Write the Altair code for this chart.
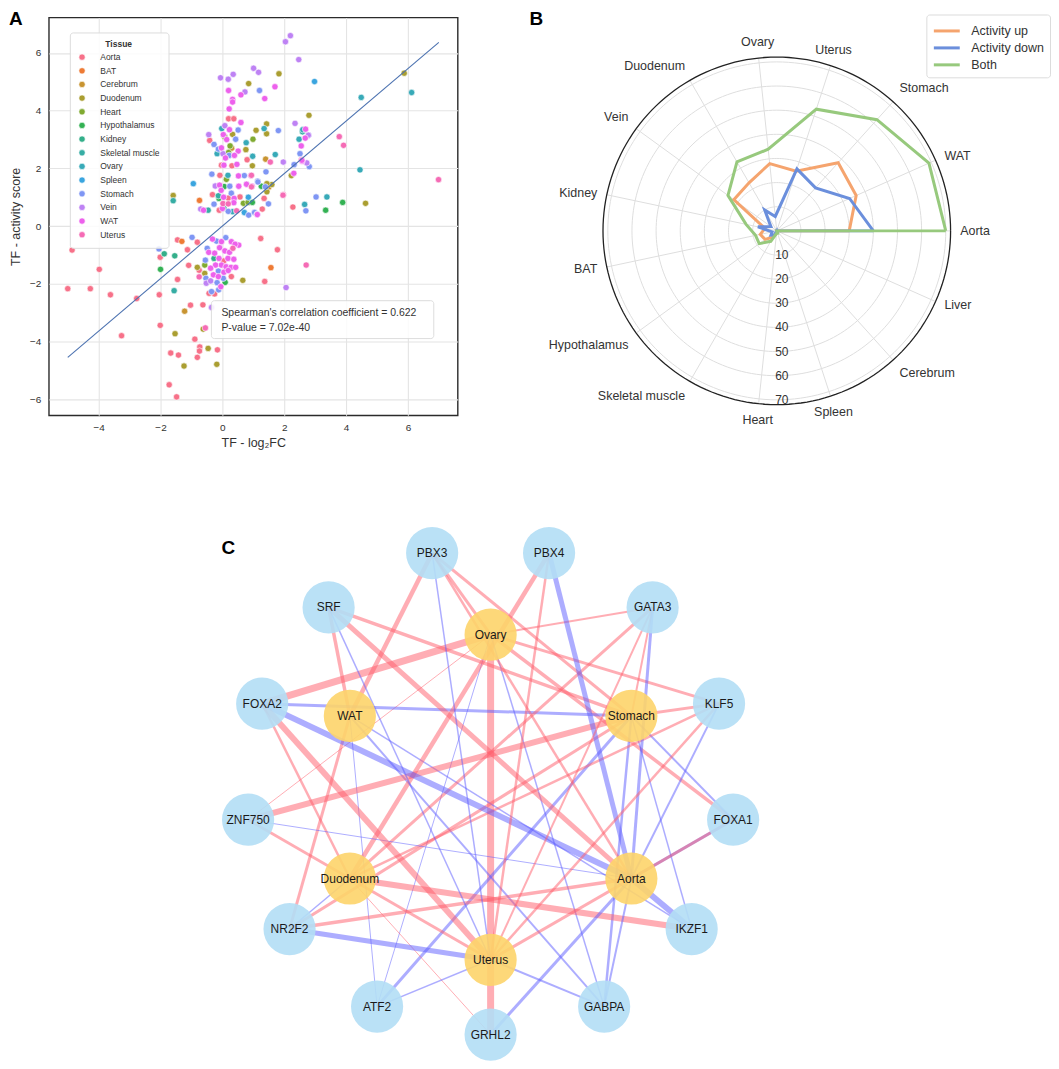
import math
import pandas as pd
import altair as alt

FONT = "Liberation Sans"
INK = "#333333"

# ======================= Panel A : scatter =======================
tissue_order = ["Aorta", "BAT", "Cerebrum", "Duodenum", "Heart", "Hypothalamus",
                "Kidney", "Skeletal muscle", "Ovary", "Spleen", "Stomach", "Vein",
                "WAT", "Uterus"]
tissue_colors = ["#f77189", "#ee7b35", "#c89431", "#aa9e31", "#80aa31", "#33b153",
                 "#34af8a", "#36ada4", "#38aab8", "#3aa5df", "#7f96f4", "#be82f4",
                 "#ed61ec", "#f56bb5"]

pts_aorta = [(0.20, 3.72), (0.37, 3.72), (-0.41, 2.97), (0.80, 2.30), (2.56, 2.30), (-0.03, 2.11),
             (0.31, 2.09), (-0.08, 1.76), (-0.32, 1.09), (0.19, 0.97), (0.57, 1.01), (1.35, 0.96),
             (-0.10, 0.55), (2.28, 0.66), (1.29, 0.59), (-4.86, -0.83), (-3.98, -1.50), (-5.0, -2.17),
             (-4.27, -2.17), (-3.62, -2.38), (-2.77, -2.51), (-3.26, -3.80), (-2.01, -1.08),
             (-1.45, -0.48), (-1.13, -0.82), (-0.81, -0.56), (-1.45, -1.85), (-2.04, -2.38),
             (-1.09, -1.36), (-0.75, -1.53), (-0.43, -2.33), (-0.25, -2.35), (-1.03, -2.74),
             (-0.63, -2.73), (-2.01, -3.44), (-0.89, -3.92), (-0.73, -4.19), (-0.74, -4.33),
             (-0.16, -4.29), (-1.67, -4.40), (-1.42, -4.47), (-0.81, -4.55), (-1.72, -5.50),
             (-1.48, -5.92), (1.24, -0.43), (1.78, -0.82), (1.37, -1.92), (0.04, -1.21), (0.29, -1.75)]
pts_bat = [(-0.74, 0.89), (-1.31, -0.53), (1.57, -1.44)]
pts_cerebrum = [(1.40, 2.32), (-1.22, -2.95), (0.30, 2.70), (1.50, 1.35)]
pts_duodenum = [(1.83, 5.28), (5.88, 5.30), (0.85, 4.94), (1.43, 3.54), (2.80, 3.84), (1.09, 3.32),
                (0.33, 3.18), (1.43, 3.20), (0.76, 2.65), (0.97, 2.09), (2.23, 1.75), (1.60, 1.44),
                (1.44, 1.19), (-1.59, 1.06), (4.63, 0.79), (-0.81, -1.43), (-0.57, -1.64),
                (0.66, -1.88), (-0.62, -3.57), (-1.53, -3.73), (-0.46, -4.24), (-1.24, -4.85),
                (-0.18, -4.79), (1.44, 1.47)]
pts_heart = [(0.08, 3.09), (0.99, 3.01), (0.25, 2.78), (0.13, 1.62), (0.68, 0.79), (0.83, 0.82),
             (-0.57, -1.35), (0.20, 2.55)]
pts_hypothalamus = [(1.26, 1.38), (0.06, 1.37), (-0.11, 0.96), (0.97, 0.82), (3.89, 0.82),
                    (3.34, 0.55), (0.09, -1.95), (-2.00, -1.50)]
pts_kidney = [(-1.88, -0.96), (-1.54, -1.03), (-0.27, -1.12), (0.05, 0.62)]
pts_skeletal = [(2.59, 3.27), (-0.13, 1.05), (-1.59, 0.88), (-0.46, 0.55), (-1.56, -2.24)]
pts_ovary = [(6.12, 4.63), (4.49, 4.46), (-0.02, 3.38), (1.35, 3.38), (0.77, 2.89), (2.48, 3.01),
             (-0.17, 2.51), (1.71, 2.48), (0.98, 2.42), (4.45, 1.95), (0.18, 1.76), (3.38, 1.01),
             (2.66, 0.75), (0.33, 0.50), (2.60, 3.34)]
pts_spleen = [(2.98, 5.01), (-0.94, 1.47), (0.84, 1.00), (0.71, 0.47)]
pts_stomach = [(1.20, 4.70), (0.51, 3.33), (1.81, 3.31), (2.78, 3.15), (-0.27, 2.83), (0.43, 3.01),
               (-0.13, 2.67), (0.22, 2.45), (2.51, 2.51), (2.32, 2.13), (2.81, 2.06), (-0.34, 1.80),
               (0.71, 1.75), (1.41, 1.88), (1.14, 1.56), (1.39, 1.36), (0.24, 1.38), (0.29, 1.14),
               (3.03, 1.01), (-0.27, 0.76), (1.49, 0.77), (2.70, 0.53), (0.19, 0.51), (0.85, 0.38),
               (1.04, 0.47), (1.15, 1.53), (-2.05, -0.79), (-0.98, -0.39), (-0.53, -1.81),
               (-0.35, -2.27), (-0.12, -2.21), (-0.19, -0.52), (0.11, -0.40), (-0.49, -0.77),
               (-0.55, -1.18), (-0.13, -1.56), (0.03, -1.81), (-0.17, -1.96)]
pts_vein = [(2.20, 6.60), (2.04, 6.39), (2.47, 5.77), (1.01, 5.47), (1.17, 5.33), (0.35, 5.26),
            (-0.06, 5.14), (0.19, 5.09), (0.73, 4.65), (0.08, 3.48), (2.35, 3.56), (-0.44, 3.17),
            (2.78, 3.15), (0.02, 2.51), (1.97, 2.22), (2.73, 2.19), (-0.23, 1.39), (-0.70, 0.59),
            (1.12, 0.41), (-0.52, -1.98), (-0.35, -2.82), (2.06, -2.13), (-0.38, -1.90)]
pts_wat = [(1.70, 4.83), (0.20, 4.70), (0.60, 4.55), (1.37, 4.42), (0.33, 4.39), (0.33, 4.30),
           (0.22, 4.06), (0.60, 3.59), (0.23, 3.34), (2.69, 3.36), (0.03, 3.17), (0.14, 3.00),
           (2.68, 3.05), (2.55, 2.78), (0.51, 2.60), (-0.03, 2.71), (0.39, 2.45), (0.10, 2.36),
           (2.58, 2.25), (0.05, 2.11), (0.47, 2.14), (0.52, 1.74), (0.92, 1.75), (2.31, 1.83),
           (-0.09, 1.42), (0.53, 1.38), (0.78, 1.45), (0.96, 1.38), (-0.04, 1.24), (0.04, 1.00),
           (0.38, 0.96), (0.37, 0.81), (-0.61, 0.55), (0.00, 0.61), (1.13, 0.40), (-0.32, -0.45),
           (-0.03, -0.54), (0.29, -0.54), (0.53, -0.66), (0.41, -0.63), (-0.44, -0.91),
           (-0.25, -0.94), (-0.09, -0.75), (0.08, -0.86), (0.23, -0.91), (-0.11, -1.12),
           (0.18, -1.12), (0.37, -1.15), (-0.22, -1.35), (-0.03, -1.35), (0.12, -1.41),
           (0.28, -1.43), (0.43, -1.43), (-0.38, -1.46), (0.05, -1.60), (0.19, -1.54),
           (-0.29, -1.69), (-0.13, -1.75), (-0.05, -2.10), (2.57, 2.28)]
pts_uterus = [(3.78, 3.10), (3.92, 2.80), (1.55, 2.22), (6.99, 1.61), (1.97, 1.09), (0.02, 0.78),
              (0.19, 0.77), (0.46, 0.53), (0.94, 1.76), (0.94, 1.36), (1.96, 1.07), (2.71, -1.35),
              (-0.75, -1.76), (-0.55, -3.53), (0.34, -0.77)]

groups = [("Aorta", pts_aorta), ("BAT", pts_bat), ("Cerebrum", pts_cerebrum),
          ("Duodenum", pts_duodenum), ("Heart", pts_heart), ("Hypothalamus", pts_hypothalamus),
          ("Kidney", pts_kidney), ("Skeletal muscle", pts_skeletal), ("Ovary", pts_ovary),
          ("Spleen", pts_spleen), ("Stomach", pts_stomach), ("Vein", pts_vein),
          ("WAT", pts_wat), ("Uterus", pts_uterus)]
scatter_df = pd.DataFrame([{"tissue": t, "x": x, "y": y} for t, pts in groups for x, y in pts])

fit_x = [-5.0, 7.0]
fit_slope = 0.91
fit_intercept = 0.0
fit_df = pd.DataFrame({"x": fit_x})

x_ticks = [-4, -2, 0, 2, 4, 6]
y_ticks = [-6, -4, -2, 0, 2, 4, 6]
x_domain = [-5.61, 7.61]
y_domain = [-6.56, 7.23]
annot_lines = ["Spearman's correlation coefficient = 0.622", "P-value = 7.02e-40"]

axis_common = dict(grid=True, gridColor="#e4e4e4", gridWidth=1.1, ticks=False, tickSize=0,
                   domain=False, labelFontSize=10, labelColor=INK, titleFontSize=12.5,
                   titleFontWeight="normal", titleColor=INK)
xA = alt.X("x:Q", scale=alt.Scale(domain=x_domain, nice=False, zero=False),
           axis=alt.Axis(values=x_ticks, title="TF - log₂FC", labelPadding=7, titlePadding=4,
                         **axis_common))
yA = alt.Y("y:Q", scale=alt.Scale(domain=y_domain, nice=False, zero=False),
           axis=alt.Axis(values=y_ticks, title="TF - activity score", labelPadding=8,
                         titlePadding=7, **axis_common))

pointsA = alt.Chart(scatter_df).mark_circle(size=40, opacity=1, stroke="white",
                                             strokeWidth=0.6).encode(
    x=xA, y=yA,
    color=alt.Color("tissue:N", sort=tissue_order,
                    scale=alt.Scale(domain=tissue_order, range=tissue_colors),
                    legend=alt.Legend(title="Tissue", orient="none", legendX=21, legendY=15,
                                      columns=1, fillColor="rgba(255,255,255,0.85)",
                                      strokeColor="#dcdcdc", cornerRadius=3, padding=8,
                                      titleFontSize=8.5, titleFontWeight="bold",
                                      titleColor=INK, titleAnchor="middle", titlePadding=4,
                                      labelFontSize=8.5, labelColor=INK, labelOffset=14,
                                      symbolSize=40, symbolType="circle",
                                      symbolStrokeColor="white", symbolStrokeWidth=0.6,
                                      rowPadding=3.7)))
fitA = alt.Chart(fit_df).transform_calculate(
    yfit=f"{fit_slope} * datum.x + {fit_intercept}"
).mark_line(color="#4c72b0", strokeWidth=1.1).encode(x=xA, y=alt.Y("yfit:Q"))

boxA = alt.Chart(pd.DataFrame({"k": [0]})).mark_rect(
    fill="white", opacity=0.88, stroke="#d9d9d9", strokeWidth=1, cornerRadius=3
).encode(x=alt.value(163), x2=alt.value(386), y=alt.value(284), y2=alt.value(322))
txtA1 = alt.Chart(pd.DataFrame({"t": [annot_lines[0]]})).mark_text(
    align="left", baseline="middle", fontSize=10.5, color=INK
).encode(text="t:N", x=alt.value(173), y=alt.value(296))
txtA2 = alt.Chart(pd.DataFrame({"t": [annot_lines[1]]})).mark_text(
    align="left", baseline="middle", fontSize=10.5, color=INK
).encode(text="t:N", x=alt.value(173), y=alt.value(311))
letterA = alt.Chart(pd.DataFrame({"t": ["A"]})).mark_text(
    align="left", baseline="top", fontSize=19, fontWeight="bold", color="black"
).encode(text="t:N", x=alt.value(-40), y=alt.value(-7))

panelA = alt.layer(pointsA, fitA, boxA, txtA1, txtA2, letterA).properties(
    width=410, height=399, view=alt.ViewBackground(stroke="#2b2b2b", strokeWidth=1.4))

# ======================= Panel B : radar =======================
radar_tissues = ["Aorta", "WAT", "Stomach", "Uterus", "Ovary", "Duodenum", "Vein", "Kidney",
                 "BAT", "Hypothalamus", "Skeletal muscle", "Heart", "Spleen", "Cerebrum", "Liver"]
act_up = [30, 36, 38, 26, 28, 23, 22, 5, 7, 6, 3, 1, 0, 0, 0]
act_down = [40, 33, 24, 27, 6, 10, 3, 8, 2, 3, 2, 0, 1, 0, 0]
act_both = [70, 69, 62, 53, 34, 33, 25, 13, 9, 9, 5, 1, 1, 0, 0]
series_names = ["Activity up", "Activity down", "Both"]
series_colors = ["#f5a46e", "#6b8fdc", "#97c97d"]
r_ticks = [10, 20, 30, 40, 50, 60, 70]
r_max = 72

n_ax = len(radar_tissues)
radar_rows = []
for s, vals in zip(series_names, (act_up, act_down, act_both)):
    for k in range(n_ax + 1):
        radar_rows.append({"series": s, "k": k, "value": vals[k % n_ax]})
radar_df = pd.DataFrame(radar_rows)

D = 88.4
bsx = alt.Scale(domain=[-D, D], nice=False, zero=False)
bsy = alt.Scale(domain=[-D, D], nice=False, zero=False)


def BX(f):
    return alt.X(f"{f}:Q", scale=bsx, axis=None)


def BY(f):
    return alt.Y(f"{f}:Q", scale=bsy, axis=None)


THETA = f"datum.k * 2 * PI / {n_ax}"

ring_df = pd.DataFrame([{"r": r, "a": a} for r in r_ticks for a in range(0, 361, 2)])
spine_df = pd.DataFrame([{"r": r_max, "a": a} for a in range(0, 361, 2)])
ringsB = alt.Chart(ring_df).transform_calculate(
    px="datum.r * cos(datum.a * PI / 180)", py="datum.r * sin(datum.a * PI / 180)"
).mark_line(color="#dedede", strokeWidth=1).encode(x=BX("px"), y=BY("py"), detail="r:N",
                                                   order="a:Q")
spokesB = alt.Chart(pd.DataFrame({"k": list(range(n_ax))})).transform_calculate(
    x0="0", y0="0", x1=f"{r_max} * cos({THETA})", y1=f"{r_max} * sin({THETA})"
).mark_rule(color="#dedede", strokeWidth=1).encode(x=BX("x0"), y=BY("y0"), x2="x1:Q", y2="y1:Q")
spineB = alt.Chart(spine_df).transform_calculate(
    px="datum.r * cos(datum.a * PI / 180)", py="datum.r * sin(datum.a * PI / 180)"
).mark_line(color="#222222", strokeWidth=1.3).encode(x=BX("px"), y=BY("py"), order="a:Q")

linesB = alt.Chart(radar_df).transform_calculate(
    theta=THETA, px="datum.value * cos(datum.theta)", py="datum.value * sin(datum.theta)"
).mark_line(strokeWidth=3).encode(
    x=BX("px"), y=BY("py"), order="k:Q",
    color=alt.Color("series:N", sort=series_names,
                    scale=alt.Scale(domain=series_names, range=series_colors),
                    legend=alt.Legend(title=None, orient="none", legendX=364, legendY=-3,
                                      columns=1, symbolType="M-1.5,0H1.5", symbolSize=300,
                                      symbolStrokeWidth=3, symbolOffset=4, labelFontSize=12.5,
                                      labelColor=INK, labelOffset=14, padding=6, rowPadding=0,
                                      fillColor="white", strokeColor="#dcdcdc",
                                      cornerRadius=3)))

r_lab = 76
h_lab = 2.6
lab_base = alt.Chart(pd.DataFrame({"tissue": radar_tissues, "k": list(range(n_ax))})).transform_calculate(
    theta=THETA, c="cos(datum.theta)", s="sin(datum.theta)"
).transform_calculate(
    lx=f"{r_lab} * datum.c",
    ly=f"{r_lab} * datum.s + (datum.s > 0.45 ? {h_lab} : (datum.s < -0.45 ? -{h_lab} : 0))"
)
lab_style = dict(baseline="middle", fontSize=12.5, color=INK)
labL = lab_base.transform_filter("datum.c > 0.4").mark_text(align="left", **lab_style).encode(
    x=BX("lx"), y=BY("ly"), text="tissue:N")
labR = lab_base.transform_filter("datum.c < -0.4").mark_text(align="right", **lab_style).encode(
    x=BX("lx"), y=BY("ly"), text="tissue:N")
labC = lab_base.transform_filter("abs(datum.c) <= 0.4").mark_text(align="center",
                                                                    **lab_style).encode(
    x=BX("lx"), y=BY("ly"), text="tissue:N")
rlabB = alt.Chart(pd.DataFrame({"r": r_ticks})).transform_calculate(
    x0="0", yr="-datum.r"
).mark_text(align="center", baseline="middle", fontSize=12, color=INK, dx=5).encode(
    x=BX("x0"), y=BY("yr"), text="r:Q")
letterB = alt.Chart(pd.DataFrame({"t": ["B"]})).mark_text(
    align="left", baseline="top", fontSize=19, fontWeight="bold", color="black"
).encode(text="t:N", x=alt.value(-34), y=alt.value(-7))

panelB = alt.layer(ringsB, spokesB, spineB, linesB, labL, labR, labC, rlabB, letterB).properties(
    width=428, height=428, view=alt.ViewBackground(stroke=None))

# ======================= Panel C : network =======================
tf_ring = ["GRHL2", "GABPA", "IKZF1", "FOXA1", "KLF5", "GATA3", "PBX4", "PBX3", "SRF",
           "FOXA2", "ZNF750", "NR2F2", "ATF2"]
tissue_ring = ["Aorta", "Stomach", "Ovary", "WAT", "Duodenum", "Uterus"]

edge_tissue = ["Ovary"] * 9 + ["WAT"] * 6 + ["Stomach"] * 11 + ["Duodenum"] * 7 + \
              ["Aorta"] * 12 + ["Uterus"] * 11
edge_tf = ["FOXA2", "GRHL2", "PBX3", "GATA3", "KLF5", "FOXA1", "ZNF750", "GABPA", "ATF2",
           "PBX3", "SRF", "NR2F2", "IKZF1", "GABPA", "ATF2",
           "PBX3", "SRF", "KLF5", "GATA3", "ZNF750", "NR2F2", "FOXA2", "FOXA1", "IKZF1", "ATF2",
           "GABPA",
           "PBX4", "GATA3", "KLF5", "FOXA2", "IKZF1", "NR2F2", "GRHL2",
           "SRF", "PBX3", "PBX4", "GATA3", "KLF5", "FOXA2", "ZNF750", "NR2F2", "IKZF1", "GABPA",
           "GRHL2", "FOXA1",
           "FOXA2", "ZNF750", "PBX3", "SRF", "NR2F2", "ATF2", "GABPA", "PBX4", "GATA3", "KLF5",
           "FOXA1"]
edge_dir = ["up", "up", "up", "up", "up", "up", "up", "down", "down",
            "up", "up", "up", "down", "down", "down",
            "up", "up", "up", "up", "up", "up", "down", "down", "down", "down", "down",
            "up", "up", "up", "up", "up", "down", "up",
            "up", "up", "down", "down", "down", "down", "down", "up", "down", "down", "down",
            "down",
            "up", "up", "down", "down", "down", "down", "down", "up", "up", "up", "up"]
edge_w = [7, 7, 3, 2, 3, 3.5, 1, 1.5, 1,
          4.5, 3.5, 3, 1.5, 2, 1,
          3, 3.5, 3, 2, 6, 3, 3, 2, 1.5, 3, 2.5,
          4.5, 3, 2.5, 2.5, 6, 1.5, 1,
          5, 2.5, 5, 3, 2, 6, 1, 3.5, 6, 2, 3, 3,
          6, 3, 1.5, 1.5, 5, 1.5, 2, 2.5, 2, 2.5, 3]

R_OUT, R_IN, IN_DY = 245.0, 163.0, -7.0
pos = {}
for i, n in enumerate(tf_ring):
    a = math.radians(270 + i * 360 / len(tf_ring))
    pos[n] = (R_OUT * math.cos(a), R_OUT * math.sin(a), "TF")
for i, n in enumerate(tissue_ring):
    a = math.radians(-30 + i * 60)
    pos[n] = (R_IN * math.cos(a), IN_DY + R_IN * math.sin(a), "Tissue")

node_fill = {"TF": "#b3def5", "Tissue": "#fdd46a"}
edge_col = {"up": "#ff5c6a", "down": "#5c5cff"}

nodes_df = pd.DataFrame([{"name": n, "x": p[0], "y": p[1], "fill": node_fill[p[2]]}
                         for n, p in pos.items()])
edges_df = pd.DataFrame([{"x": pos[t][0], "y": pos[t][1], "x2": pos[f][0], "y2": pos[f][1],
                          "stroke": edge_col[d], "w": w}
                         for t, f, d, w in zip(edge_tissue, edge_tf, edge_dir, edge_w)])

csx = alt.Scale(domain=[-443, -33], nice=False, zero=False)
csy = alt.Scale(domain=[-267, 273], nice=False, zero=False)
edgesC = alt.Chart(edges_df).mark_rule(opacity=0.5, strokeCap="butt").encode(
    x=alt.X("x:Q", scale=csx, axis=None), y=alt.Y("y:Q", scale=csy, axis=None),
    x2="x2:Q", y2="y2:Q",
    color=alt.Color("stroke:N", scale=None),
    strokeWidth=alt.StrokeWidth("w:Q", scale=None))
nodesC = alt.Chart(nodes_df).mark_circle(size=2740, opacity=0.9).encode(
    x=alt.X("x:Q", scale=csx, axis=None), y=alt.Y("y:Q", scale=csy, axis=None),
    color=alt.Color("fill:N", scale=None))
textC = alt.Chart(nodes_df).mark_text(fontSize=12, color="#1a1a1a").encode(
    x=alt.X("x:Q", scale=csx, axis=None), y=alt.Y("y:Q", scale=csy, axis=None), text="name:N")
letterC = alt.Chart(pd.DataFrame({"t": ["C"]})).mark_text(
    align="center", baseline="middle", fontSize=19, fontWeight="bold", color="black"
).encode(text="t:N", x=alt.value(180), y=alt.value(30))

panelC = alt.layer(edgesC, nodesC, textC, letterC).properties(
    width=410, height=540, view=alt.ViewBackground(stroke=None))

chart = alt.concat(panelA, panelB, panelC, columns=2, spacing={"row": 74, "column": 106},
                   bounds="flush").resolve_scale(
    color="independent", x="independent", y="independent"
).properties(padding=0).configure(font=FONT).configure_view(stroke=None)

chart.save("out.html", embed_options={"renderer": "svg", "actions": False})
